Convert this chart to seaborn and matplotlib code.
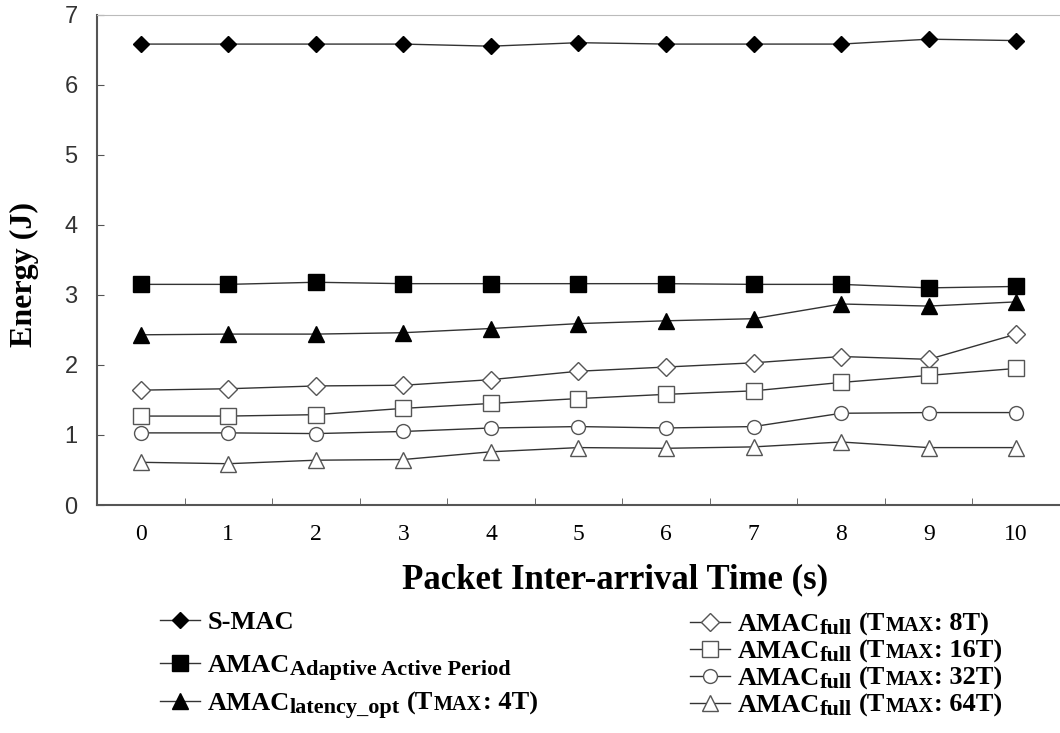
import seaborn as sns
import matplotlib.pyplot as plt
import pandas as pd
from matplotlib.transforms import IdentityTransform

x = list(range(11))
s_mac = [6.58, 6.58, 6.58, 6.58, 6.55, 6.60, 6.58, 6.58, 6.58, 6.65, 6.63]
amac_adaptive = [3.15, 3.15, 3.18, 3.16, 3.16, 3.16, 3.16, 3.15, 3.15, 3.10, 3.12]
amac_latency = [2.43, 2.44, 2.44, 2.46, 2.52, 2.59, 2.63, 2.66, 2.87, 2.84, 2.90]
full_8t = [1.64, 1.66, 1.70, 1.71, 1.79, 1.91, 1.97, 2.03, 2.12, 2.08, 2.44]
full_16t = [1.27, 1.27, 1.29, 1.38, 1.45, 1.52, 1.58, 1.63, 1.75, 1.85, 1.95]
full_32t = [1.03, 1.03, 1.02, 1.05, 1.10, 1.12, 1.10, 1.12, 1.31, 1.32, 1.32]
full_64t = [0.61, 0.59, 0.64, 0.65, 0.76, 0.82, 0.81, 0.83, 0.90, 0.82, 0.82]

names = ['S-MAC', 'AMAC Adaptive', 'AMAC latency_opt 4T', 'AMAC full 8T',
         'AMAC full 16T', 'AMAC full 32T', 'AMAC full 64T']
# legend text pieces: (text, kind) -> main / sub (lowered) / caps (small, same baseline)
legend_text = [
    [('S-MAC', 'main')],
    [('AMAC', 'main'), ('Adaptive Active Period', 'sub')],
    [('AMAC', 'main'), ('latency_opt', 'sub'), (' (T', 'main'), ('MAX', 'caps'), (': 4T)', 'main')],
    [('AMAC', 'main'), ('full', 'sub'), (' (T', 'main'), ('MAX', 'caps'), (': 8T)', 'main')],
    [('AMAC', 'main'), ('full', 'sub'), (' (T', 'main'), ('MAX', 'caps'), (': 16T)', 'main')],
    [('AMAC', 'main'), ('full', 'sub'), (' (T', 'main'), ('MAX', 'caps'), (': 32T)', 'main')],
    [('AMAC', 'main'), ('full', 'sub'), (' (T', 'main'), ('MAX', 'caps'), (': 64T)', 'main')],
]
series = [s_mac, amac_adaptive, amac_latency, full_8t, full_16t, full_32t, full_64t]
markers = ['D', 's', '^', 'D', 's', 'o', '^']
msizes = [8, 11, 12, 9, 11, 10, 12]
filled = [True, True, True, False, False, False, False]

df = pd.DataFrame({
    'x': x * len(series),
    'energy': sum(series, []),
    'name': sum([[n] * len(x) for n in names], []),
})

fig = plt.figure(figsize=(10.6, 7.33), dpi=100)
ax = fig.add_axes([0.0915, 0.311, 0.9085, 0.669])

for i, n in enumerate(names):
    sub = df[df['name'] == n]
    sns.lineplot(data=sub, x='x', y='energy', ax=ax, label=n, color='#333333',
                 linewidth=1.0, marker=markers[i], markersize=msizes[i],
                 markerfacecolor='black' if filled[i] else 'white',
                 markeredgecolor='black' if filled[i] else '#555555',
                 markeredgewidth=1.0)

ax.set_xlim(-0.5, 10.5)
ax.set_ylim(0, 7)
ax.set_xticks(x)
ax.set_xticks([i + 0.5 for i in range(10)], minor=True)
ax.set_yticks(range(8))
ax.tick_params(axis='x', which='major', length=0, pad=14, labelsize=17)
ax.tick_params(axis='x', which='minor', length=5, direction='in', color='#555555')
ax.tick_params(axis='y', length=5, direction='in', pad=14, labelsize=17,
               labelcolor='#333333', color='#555555')
for t in ax.get_xticklabels():
    t.set_fontfamily('Liberation Serif')
for t in ax.get_yticklabels():
    t.set_fontfamily('Liberation Sans')

for side in ['left', 'bottom']:
    ax.spines[side].set_color('#555555')
    ax.spines[side].set_linewidth(1.5)
ax.spines['top'].set_color('#bbbbbb')
ax.spines['right'].set_visible(False)

ax.set_xlabel('Packet Inter-arrival Time (s)', fontsize=25, fontweight='bold',
              fontfamily='Liberation Serif')
ax.xaxis.set_label_coords(0.538, -0.118)
ax.set_ylabel('Energy (J)', fontsize=23, fontweight='bold',
              fontfamily='Liberation Serif')
ax.yaxis.set_label_coords(-0.06, 0.47)

handles, _ = ax.get_legend_handles_labels()
ax.get_legend().remove()

# one small legend per row so the rows sit where the reference has them
main_pt, sub_pt, caps_pt = 19, 16, 14.5
row_pos = [(0.151, 1 - 622 / 733), (0.151, 1 - 665 / 733), (0.151, 1 - 703 / 733),
           (0.651, 1 - 624 / 733), (0.651, 1 - 651 / 733), (0.651, 1 - 678 / 733),
           (0.651, 1 - 705 / 733)]
legs = []
for h, pieces, pos in zip(handles, legend_text, row_pos):
    leg = fig.legend([h], [pieces[0][0]], loc='center left', bbox_to_anchor=pos,
                     frameon=False, handlelength=1.5, handletextpad=0.3,
                     borderpad=0, borderaxespad=0,
                     prop={'family': 'Liberation Serif', 'weight': 'bold', 'size': main_pt})
    legs.append(leg)

fig.canvas.draw()
r = fig.canvas.get_renderer()
px = fig.dpi / 72
for leg, pieces in zip(legs, legend_text):
    t = leg.get_texts()[0]
    bb = t.get_window_extent(r)
    _, _, d = r.get_text_width_height_descent('lp', t.get_fontproperties(), ismath=False)
    xx, base = bb.x1, bb.y0 + d
    for txt, kind in pieces[1:]:
        size = {'main': main_pt, 'sub': sub_pt, 'caps': caps_pt}[kind]
        if txt.startswith(' '):
            xx += 0.25 * size * px
            txt = txt.strip()
        dy = -3 if kind == 'sub' else 0
        tt = fig.text(xx, base + dy, txt, transform=IdentityTransform(), fontsize=size,
                      fontweight='bold', family='Liberation Serif', va='baseline', ha='left')
        xx += tt.get_window_extent(r).width + 0.5

fig.savefig('out.png', dpi=100)
